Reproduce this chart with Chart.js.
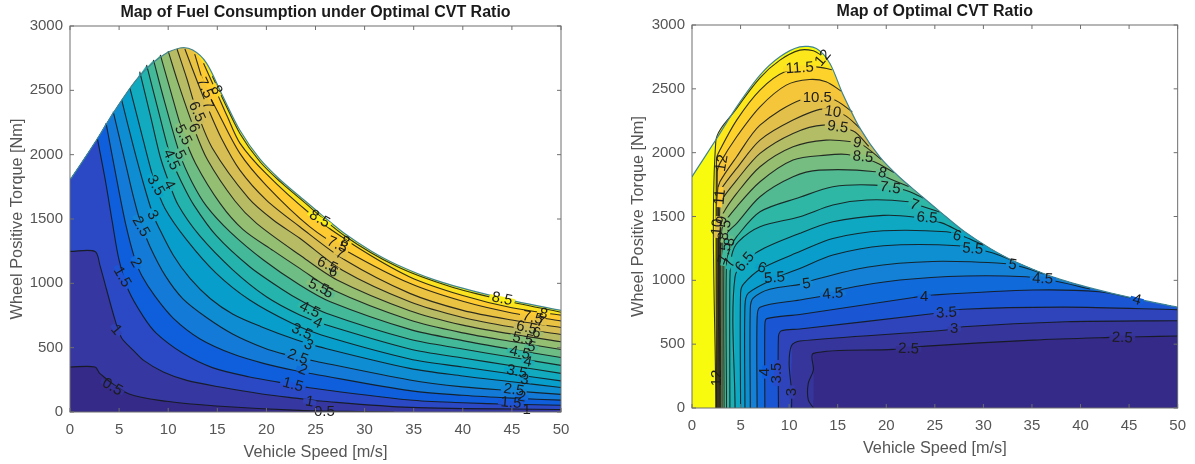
<!DOCTYPE html>
<html><head><meta charset="utf-8">
<style>
html,body{margin:0;padding:0;background:#fff;width:1195px;height:464px;overflow:hidden}
canvas{position:absolute;top:0;filter:blur(0.35px)}
#c1{left:0}#c2{left:600px}
</style>
<script src="https://cdn.jsdelivr.net/npm/chart.js@4"></script>
</head><body>
<canvas id="c1" width="600" height="464" style="width:600px;height:464px"></canvas>
<canvas id="c2" width="595" height="464" style="width:595px;height:464px"></canvas>
<script>
const speedTicks=[0,5,10,15,20,25,30,35,40,45,50];
const torqueTicks=[0,500,1000,1500,2000,2500,3000];
const parulaAt=[0,0.06,0.12,0.17,0.25,0.375,0.5,0.625,0.75,0.875,1];
const parulaStops=['#352a87','#3637a0','#2b4ac7','#0f5cdd','#1481d6','#06a4ca','#2eb7a4','#87bf77','#d1bb59','#fec832','#f9fb0e'];

/* ---- left: fuel consumption ---- */
const fuelEnvelope=[[0,1810],[0.2,1826],[2.7,2114],[4.6,2347],[6.9,2595],[9.2,2759],[11.2,2829],[12.5,2813],[13.9,2712],[15.5,2464],[17.3,2190],[19.35,1965],[21.4,1805],[23.4,1675],[25.5,1540],[28,1385],[30.7,1250],[33.3,1145],[37.2,1025],[41.3,935],[45.4,860],[50,790]];
const fuelLevels=[0.5,1,1.5,2,2.5,3,3.5,4,4.5,5,5.5,6,6.5,7,7.5,8,8.5];
const fuel05=[[0,350],[2.55,350],[3.05,298],[5.95,142],[9.85,83],[14.9,47],[23.4,13],[30,3],[33,0]];
const fuel10=[[0,1248],[2.55,1248],[3.05,1140],[3.7,958],[4.6,712],[5.26,575],[6.45,479],[7.5,401],[9.5,311],[11.9,246],[15.3,194],[19.4,142],[23.4,104],[25.5,85],[34.6,36],[50,20]];
const fuel15=[[2.8,2120],[3.6,1800],[4.3,1480],[5,1180],[5.94,948],[7.47,741],[8.8,611],[11.5,456],[14.5,345],[18.3,272],[21.2,232],[24.4,189],[34.6,93],[40,72],[45,60],[50,52]];
const fuel20=[[3.67,2246],[4.8,1790],[5.7,1450],[6.6,1190],[7.3,1060],[8.65,900],[10.5,730],[13.2,570],[16.6,450],[19.7,378],[23,320],[24.8,295],[34.6,166],[40,130],[45,108],[50,92]];
const fuel25=[[4.4,2334],[5.6,1950],[6.5,1660],[7.2,1470],[8.15,1285],[9.7,1060],[11.5,880],[13.9,735],[16.6,605],[19.7,500],[21.9,448],[25,395],[34.6,249],[40,195],[45,165],[50,137]];
const fuel30=[[5.26,2425],[6.5,2050],[7.5,1770],[8.4,1545],[9,1440],[10.5,1220],[12.2,1040],[14.3,880],[16.6,760],[19.4,665],[23.1,559],[25.3,508],[34.6,339],[40,280],[45,235],[50,190]];
const fuel35=[[6.1,2518],[7.4,2130],[8.6,1790],[9.67,1582],[11.9,1336],[14.9,1077],[18.3,870],[22.6,689],[25.6,598],[34.6,412],[40,350],[45,295],[50,242]];
const fuel40=[[7.1,2645],[8.2,2300],[9.2,1980],[10,1800],[11,1610],[13.2,1370],[16.6,1103],[20,896],[23.4,754],[25.8,684],[34.6,490],[40,420],[45,360],[50,300]];
const fuel45=[[7.8,2697],[9,2340],[10.3,1970],[11.4,1780],[12.6,1610],[14.9,1370],[18.3,1129],[21.7,948],[23.4,870],[26.1,767],[34.6,565],[40,490],[45,425],[50,362]];
const fuel50=[[8.5,2736],[9.6,2420],[11.2,2000],[12.4,1790],[13.9,1600],[16.3,1400],[19.7,1181],[23.4,987],[26.5,857],[34.6,642],[40,555],[45,487],[50,424]];
const fuel55=[[9.2,2775],[10.3,2480],[11.5,2170],[12.8,1930],[15.3,1620],[17.6,1420],[20.7,1254],[23.4,1116],[26.8,948],[34.6,715],[40,615],[45,548],[50,486]];
const fuel60=[[10,2805],[11,2560],[12.6,2210],[14,1960],[16.8,1640],[19,1466],[23.4,1220],[27.2,1026],[34.6,787],[40,675],[45,605],[50,546]];
const fuel65=[[10.9,2821],[11.9,2590],[12.9,2340],[14.5,2050],[18.2,1660],[20.7,1492],[23.4,1350],[27.7,1104],[34.6,857],[40,735],[45,660],[50,602]];
const fuel70=[[11.7,2821],[12.9,2580],[14,2370],[15.4,2130],[17.3,1880],[20,1647],[23.4,1440],[28,1181],[34.6,922],[40,790],[45,715],[50,657]];
const fuel75=[[12.7,2782],[13.7,2540],[15,2340],[17.3,2010],[20,1760],[24.4,1441],[28.3,1246],[34.6,1000],[40,860],[45,770],[50,708]];
const fuel80=[[13.6,2710],[14.9,2490],[16,2300],[17.3,2090],[20,1850],[24.4,1545],[28.9,1298],[34.6,1050],[40,905],[45,810],[50,753]];
const fuel85=[[14.5,2610],[15.5,2445],[17.3,2165],[19.35,1945],[21.4,1790],[23.4,1660],[28,1368],[33.3,1130],[38.7,975],[43.8,875],[50,775]];
const fuelLabels=[
['8',14.9,2502,65],['7.5',13.7,2518,65],['7',14,2386,65],['6.5',12.9,2332,65],['6',12.6,2207,65],['5.5',11.5,2153,62],['5',11.2,1997,62],['4.5',10.3,1960,65],['4',10.1,1764,62],['3.5',8.7,1760,60],['3',8.4,1530,60],['2.5',7.2,1440,60],['2',6.7,1160,60],['1.5',5.3,1049,60],['1',4.7,637,50],['0.5',4.3,194,30],
['8.5',25.4,1500,30],['8',28,1321,25],['7.5',27.2,1298,25],['7',27.5,1228,25],['6.5',26.2,1142,25],['6',26.8,1088,25],['5.5',25.3,971,25],['5',26.3,925,25],['4.5',24.4,793,25],['4',25.2,692,25],['3.5',23.6,622,25],['3',24.3,521,25],['2.5',23.2,427,20],['2',23.7,326,20],['1.5',22.7,210,15],['1',24.4,78,10],['0.5',25.9,0,0],
['8.5',44,878,12],['8',48.2,762,12],['7.5',47.1,731,12],['7',47.9,699,12],['6.5',46.5,653,12],['6',47.5,614,12],['5.5',46.1,567,12],['5',47,505,12],['4.5',45.8,459,12],['4',46.6,389,12],['3.5',45.5,311,12],['3',46.3,249,10],['2.5',45.2,171,8],['2',46,117,8],['1.5',44.9,70,5],['1',46.5,16,0]];

/* ---- right: optimal ratio ---- */
const ratioEnvelope=[[0,1810],[0.1,1824],[2.54,2111],[4.6,2359],[7,2607],[9.05,2751],[11.1,2829],[12.8,2816],[14.2,2699],[15.5,2464],[17.3,2190],[19.35,1965],[21.4,1805],[23.4,1675],[25.5,1540],[28,1385],[30.7,1250],[33.3,1145],[37.2,1025],[41.3,935],[45.4,860],[50,790]];
const ratioLevels=[2.5,3,3.5,4,4.5,5,5.5,6,6.5,7,7.5,8,8.5,9,9.5,10,10.5,11,11.5,12];
const ratio25=[[12.5,0],[11.97,63],[11.97,193],[12.5,297],[12.5,428],[20.7,459],[24.1,485],[35.1,532],[43,553],[46.1,558],[50,564]];
const ratio30=[[10.25,0],[10.25,130],[10,350],[10.25,490],[11.1,525],[26.2,611],[27.9,637],[38.5,676],[50,684]];
const ratio35=[[8.9,0],[8.9,560],[9.2,605],[11.1,619],[24.5,736],[27.9,773],[38.5,790],[50,770]];
const ratio40=[[7.5,0],[7.5,650],[7.7,700],[11.1,733],[22.8,866],[24.8,885],[35.1,924],[41.9,911],[45.4,860]];
const ratio45=[[6.7,0],[6.7,700],[7,790],[11.1,846],[14.5,893],[15.6,932],[21.4,1002],[28.2,1034],[34.4,1028],[37,1000],[41,932]];
const ratio50=[[6,0],[6,780],[6.3,860],[8,930],[11.8,976],[12.5,1002],[18,1103],[24.8,1148],[32.4,1130],[34,1105],[36.2,1050]];
const ratio55=[[5.45,0],[5.45,800],[5.8,900],[8.55,1015],[11.1,1093],[14.5,1198],[19.7,1271],[27.4,1271],[30.7,1220],[33,1155]];
const ratio60=[[5,0],[5,900],[5.3,970],[7.2,1094],[11.1,1225],[14.5,1328],[19.7,1388],[26.2,1380],[28.1,1340],[30,1275]];
const ratio65=[[4.43,0],[4.43,1028],[6.5,1211],[11.1,1368],[14.5,1459],[19.7,1509],[22.8,1496],[25.7,1450],[27.6,1380]];
const ratio70=[[3.9,0],[3.9,1000],[4.1,1200],[4.76,1302],[7,1420],[11.1,1498],[14.5,1590],[18,1629],[22.3,1616],[23.6,1582],[25.5,1535]];
const ratio75=[[3.55,0],[3.55,1150],[4,1263],[4.6,1342],[7,1537],[11.1,1650],[14.5,1733],[18.8,1746],[21.9,1707],[23.8,1645]];
const ratio80=[[3.3,0],[3.3,1250],[3.6,1368],[4.6,1446],[7,1655],[10.4,1811],[13.1,1863],[18.9,1850],[20.3,1798],[22.3,1735]];
const ratio85=[[3.1,0],[3.1,1350],[3.2,1433],[4.6,1576],[7,1772],[10.4,1942],[13.8,1981],[16,1986],[18.6,1935],[20.8,1845]];
const ratio90=[[2.95,0],[2.95,1450],[3.2,1524],[4.6,1681],[7,1890],[10.4,2046],[13.8,2098],[16.4,2085],[17.6,2059],[19.5,1945]];
const ratio95=[[2.85,0],[2.85,1550],[3.05,1628],[4.6,1785],[7,1994],[10.4,2151],[13.5,2216],[16.6,2170],[18.2,2050]];
const ratio100=[[2.76,0],[2.76,1650],[3.05,1720],[4.6,1877],[7,2098],[10.4,2255],[13.4,2341],[15.7,2294],[17.3,2190]];
const ratio105=[[2.68,0],[2.68,1700],[2.87,1772],[4.6,1968],[7,2216],[11.3,2417],[14.5,2419],[16.5,2320]];
const ratio110=[[2.6,0],[2.6,1850],[2.87,1916],[4.6,2125],[7,2359],[9.7,2529],[12.1,2573],[13.8,2555],[15.4,2480]];
const ratio115=[[2.52,0],[2.52,1950],[2.87,2020],[4.6,2255],[7,2490],[9.55,2633],[12.7,2672],[14.4,2650]];
const ratio120=[[2.45,0],[2.45,2090],[4.6,2346],[7,2586],[9.05,2725],[11.1,2803],[12.5,2798],[13.3,2764]];
const ratioLabels=[
['12',13.5,2741,-50],['11.5',11.1,2662,-4],['10.5',12.9,2427,0],['10',14.5,2318,8],['9.5',15,2200,8],['9',17,2075,12],['8.5',17.6,1965,6],['8',19.6,1840,15],['7.5',20.4,1723,8],['7',22.9,1590,20],['6.5',24.2,1488,5],['6',27.3,1347,15],['5.5',28.9,1245,5],['5',33,1120,10],['4.5',36.1,1010,3],['4',45.8,846,15],['3.5',26.2,744,-3],['3',27,619,0],['2.5',22.3,462,2],['2.5',44.3,548,2],['5',11.8,971,-8],['4.5',14.5,893,-5],['4',23.9,869,0],
['6.5',5.45,1143,-50],['6',7.2,1096,20],['5.5',8.5,1018,-5],['4',7.5,282,-90],['3.5',8.7,274,-90],['3',10.3,125,-90],['12',3.1,1918,-80],['12',2.6,235,-90],['7',3.9,1135,-70],['9',3.1,1472,-80],['8.5',3.4,1394,-80],['8',3.9,1300,-80],['7.5',3.4,1214,-80],['10',2.6,1417,-85],['11',2.9,1652,-85]];

function hex(c){return [1,3,5].map(i=>parseInt(c.substr(i,2),16));}
function bandColor(i,n){
  const t=Math.min(i/n,1);let a=0;
  while(a<parulaAt.length-2&&t>parulaAt[a+1])a++;
  const f=(t-parulaAt[a])/(parulaAt[a+1]-parulaAt[a]);
  const p=hex(parulaStops[a]),q=hex(parulaStops[a+1]);
  return 'rgb('+p.map((v,k)=>Math.round(v+(q[k]-v)*f)).join(',')+')';
}
const pts=a=>a.map(p=>({x:p[0],y:p[1]}));
const dup=p=>[p,p];
function fillFuel(c,env){
  const first=c[0],last=c[c.length-1];
  let head=[];
  if(first[0]>0){head=[...dup([0,0]),...dup(env[0]),...env.slice(1).filter(p=>p[0]<first[0]-0.05)];}
  else head=dup([0,0]);
  return [...head,...dup(first),...c.slice(1,-1),...dup(last),...(last[1]>0?dup([last[0],0]):[])];
}
function fillRatio(c,env){
  const first=c[0],last=c[c.length-1];
  const tail=last[0]<50?env.filter(p=>p[0]>last[0]+0.05):[];
  const end=tail.length?dup(tail[tail.length-1]):[];
  return [...dup(first),...c.slice(1,-1),...dup(last),...tail,...end,...dup([50,0])];
}
function fillEnvelope(env){return [...dup([0,0]),...dup(env[0]),...env.slice(1,-1),...dup(env[env.length-1]),...dup([50,0])];}

function datasets(contours,env,kind,colorN){
  const lines=contours.map(c=>({data:pts(c),showLine:true,fill:false,borderColor:'rgba(20,24,24,0.88)',borderWidth:1.1,pointRadius:0,tension:0.3}));
  const edge={data:pts(env),showLine:true,fill:false,borderColor:'#3f8496',borderWidth:1.2,pointRadius:0,tension:0.3};
  const build=kind==='fuel'?fillFuel:fillRatio;
  const fills=contours.map((c,i)=>({data:pts(build(c,env)),showLine:true,borderWidth:0,borderColor:'transparent',backgroundColor:bandColor(i,colorN),fill:'origin',pointRadius:0,tension:0.3}));
  const base={data:pts(fillEnvelope(env)),showLine:true,borderWidth:0,borderColor:'transparent',backgroundColor:bandColor(colorN,colorN),fill:'origin',pointRadius:0,tension:0.3};
  return [edge,...lines,...fills,base];
}

function overlay(levels,labels,colorN){return {id:'overlay',afterDatasetsDraw(ch){
  const {ctx,chartArea:a,scales:{x,y}}=ch;
  ctx.save();
  const items=labels.map(l=>({t:l[0],px:x.getPixelForValue(l[1]),py:y.getPixelForValue(l[2]),r:l[3]*Math.PI/180,i:levels.indexOf(parseFloat(l[0]))}));
  ctx.font='15px "Liberation Sans", Arial, sans-serif';
  ctx.textAlign='center';ctx.textBaseline='middle';
  items.forEach(o=>{if(o.t==='12'||o.py>=a.bottom-4)return;const w=ctx.measureText(o.t).width+5;ctx.save();ctx.translate(o.px,o.py);ctx.rotate(o.r);ctx.fillStyle=bandColor(o.i<0?0:o.i+0.5,colorN);ctx.fillRect(-w/2,-2.5,w,5);ctx.restore();});
  ctx.fillStyle='#1c1c1c';
  items.forEach(o=>{ctx.save();ctx.translate(o.px,o.py);ctx.rotate(o.r);ctx.fillText(o.t,0,0);ctx.restore();});
  ctx.strokeStyle='#6f6f6f';ctx.lineWidth=1;
  ctx.strokeRect(a.left,a.top,a.right-a.left,a.bottom-a.top);
  ctx.beginPath();
  speedTicks.forEach(v=>{const p=x.getPixelForValue(v);ctx.moveTo(p,a.bottom);ctx.lineTo(p,a.bottom-4);ctx.moveTo(p,a.top);ctx.lineTo(p,a.top+4);});
  torqueTicks.forEach(v=>{const p=y.getPixelForValue(v);ctx.moveTo(a.left,p);ctx.lineTo(a.left+4,p);ctx.moveTo(a.right,p);ctx.lineTo(a.right-4,p);});
  ctx.stroke();ctx.restore();
}};}

function make(id,title,ds,plugin,box){
  const tickFont={family:'"Liberation Sans", Arial, sans-serif',size:15};
  const titleFont={family:'"Liberation Sans", Arial, sans-serif',size:16.3};
  new Chart(document.getElementById(id),{type:'scatter',data:{datasets:ds},plugins:[plugin],
   options:{responsive:false,animation:false,events:[],
    layout:{padding:{left:0,right:box.right,top:0,bottom:0}},
    plugins:{legend:{display:false},tooltip:{enabled:false},
     title:{display:true,text:title,fullSize:false,color:'#1a1a1a',font:{family:'"Liberation Sans", Arial, sans-serif',size:16,weight:'bold'},padding:{top:box.titleTop,bottom:box.top-19.2-box.titleTop}}},
    scales:{
     x:{type:'linear',min:0,max:50,grid:{display:false,drawTicks:false},border:{display:false},
        afterBuildTicks(s){s.ticks=speedTicks.map(v=>({value:v}));},
        afterFit(s){s.height=box.xh;},
        ticks:{color:'#555',font:tickFont,padding:9,maxRotation:0,autoSkip:false,callback:v=>String(v)},
        title:{display:true,text:'Vehicle Speed [m/s]',color:'#555',font:titleFont,padding:{top:3,bottom:box.xb}}},
     y:{type:'linear',min:0,max:3000,grid:{display:false,drawTicks:false},border:{display:false},
        afterBuildTicks(s){s.ticks=torqueTicks.map(v=>({value:v}));},
        afterFit(s){s.width=box.left;},
        ticks:{color:'#555',font:tickFont,padding:7,autoSkip:false,callback:v=>String(v)},
        title:{display:true,text:'Wheel Positive Torque [Nm]',color:'#555',font:titleFont,padding:{top:box.ytitle,bottom:0}}}
    }}});
}
const fuelContours=[fuel05,fuel10,fuel15,fuel20,fuel25,fuel30,fuel35,fuel40,fuel45,fuel50,fuel55,fuel60,fuel65,fuel70,fuel75,fuel80,fuel85];
const ratioContours=[ratio25,ratio30,ratio35,ratio40,ratio45,ratio50,ratio55,ratio60,ratio65,ratio70,ratio75,ratio80,ratio85,ratio90,ratio95,ratio100,ratio105,ratio110,ratio115,ratio120];
make('c1','Map of Fuel Consumption under Optimal CVT Ratio',datasets(fuelContours,fuelEnvelope,'fuel',17),overlay(fuelLevels,fuelLabels,17),{left:70,right:39,top:26,xh:52,xb:2,titleTop:3,ytitle:8});
make('c2','Map of Optimal CVT Ratio',datasets(ratioContours,ratioEnvelope,'ratio',20),overlay(ratioLevels,ratioLabels,20),{left:92,right:17,top:25,xh:56,xb:6,titleTop:2,ytitle:29});
</script>
</body></html>
